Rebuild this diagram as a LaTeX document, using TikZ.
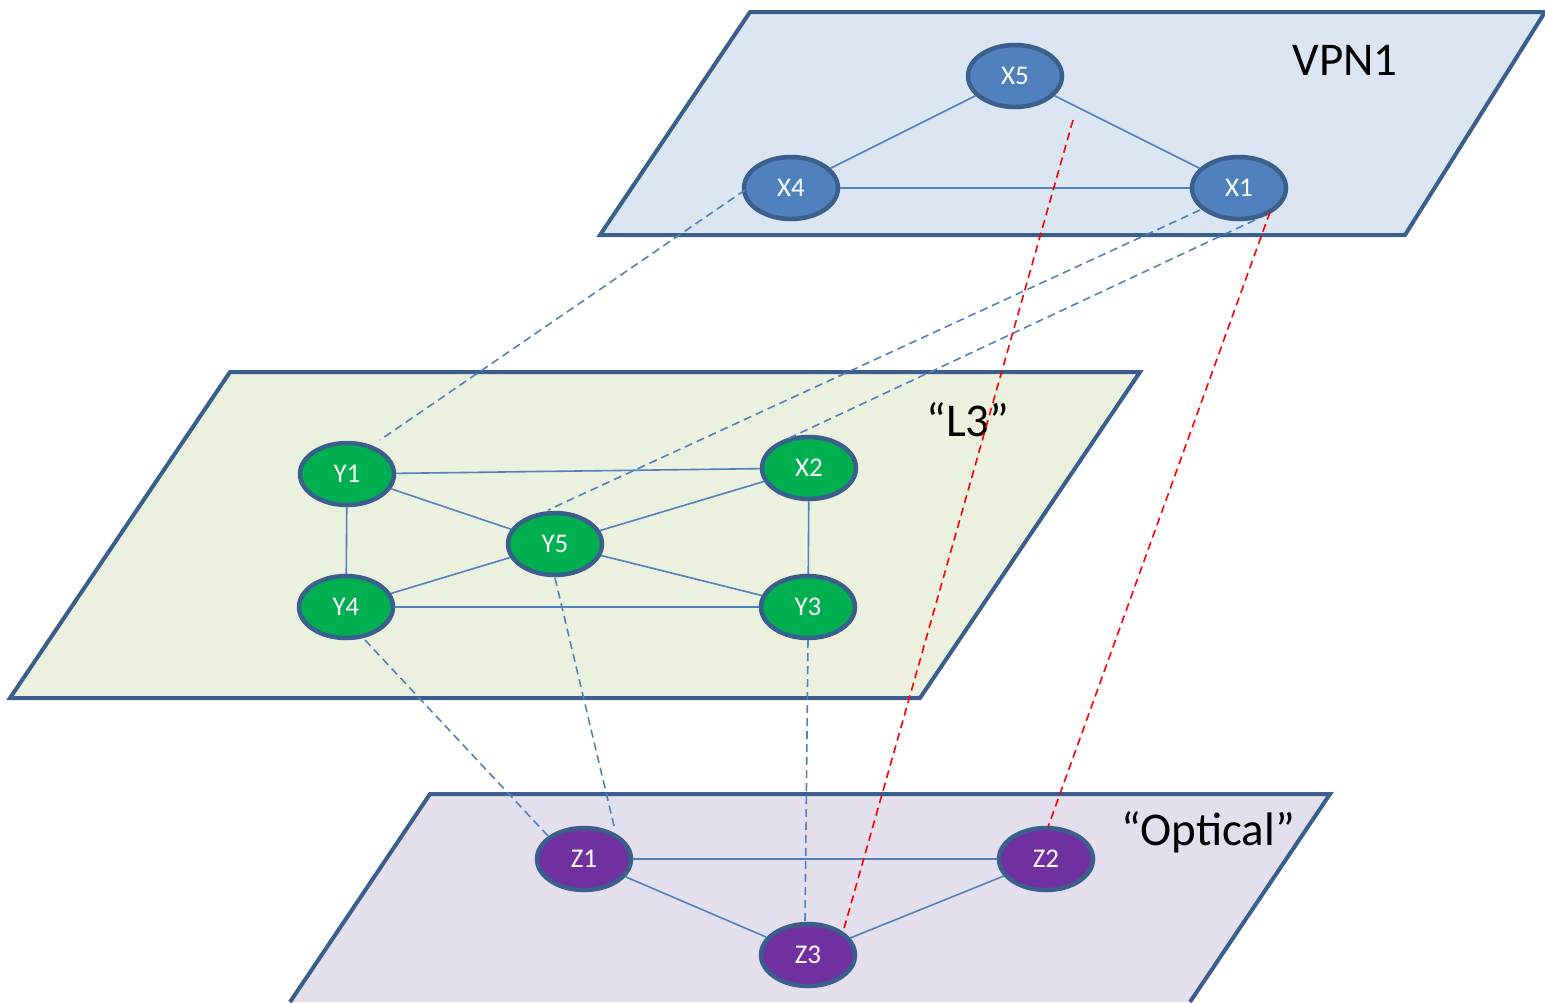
\documentclass[tikz,border=0pt]{standalone}
\usepackage{fontspec}
\setmainfont{Carlito}
\usetikzlibrary{shapes.geometric}
\definecolor{edgeblue}{HTML}{4F81BD}
\definecolor{borderblue}{HTML}{3A5F8C}
\definecolor{vpnfill}{HTML}{DCE6F2}
\definecolor{lthreefill}{HTML}{EBF1DE}
\definecolor{optfill}{HTML}{E4DFEC}
\definecolor{xnode}{HTML}{4F81BD}
\definecolor{ynode}{HTML}{00B050}
\definecolor{znode}{HTML}{7030A0}
\tikzset{
  plane/.style={draw=borderblue, line width=4pt, line join=miter},
  netnode/.style={ellipse, draw=borderblue, line width=4.5pt, minimum width=94pt, minimum height=62pt, inner sep=0pt, text=white, font=\fontsize{27}{29}\selectfont},
  xn/.style={netnode, fill=xnode},
  yn/.style={netnode, fill=ynode},
  zn/.style={netnode, fill=znode},
  link/.style={draw=edgeblue, line width=1.6pt},
  vlink/.style={draw=edgeblue, line width=1.6pt, dash pattern=on 8pt off 5pt},
  rlink/.style={draw=red, line width=1.6pt, dash pattern=on 8pt off 5pt},
  planelabel/.style={font=\fontsize{47}{50}\selectfont, text=black}
}
\begin{document}
\begin{tikzpicture}[x=1pt,y=-1pt]
\useasboundingbox (0,0) rectangle (1545,1002);
% planes
\draw[plane, fill=vpnfill] (600,235) -- (750,12) -- (1545,12) -- (1405,235) -- cycle;
\draw[plane, fill=lthreefill] (10,698) -- (230,372) -- (1140,372) -- (920,698) -- cycle;
\draw[plane, fill=optfill] (290,1002) -- (430,794) -- (1330,794) -- (1190,1002);
\node[planelabel] (lvpn) at (1345,60) {VPN1};
\node[planelabel] (ll3) at (968,420) {“L3”};
\node[planelabel] (lopt) at (1208,832) {“Optical”};
% nodes
\node[xn] (X5) at (1015,76) {X5};
\node[xn] (X4) at (791,188) {X4};
\node[xn] (X1) at (1239,188) {X1};
\node[yn] (Y1) at (347,474) {Y1};
\node[yn] (X2) at (809,468) {X2};
\node[yn] (Y5) at (555,544) {Y5};
\node[yn] (Y4) at (346,607) {Y4};
\node[yn] (Y3) at (808,607) {Y3};
\node[zn] (Z1) at (584,859) {Z1};
\node[zn] (Z2) at (1046,859) {Z2};
\node[zn] (Z3) at (808,955) {Z3};
% solid links
\draw[link] (X5) -- (X4);
\draw[link] (X5) -- (X1);
\draw[link] (X4) -- (X1);
\draw[link] (Y1) -- (X2);
\draw[link] (Y1) -- (Y5);
\draw[link] (Y1) -- (Y4);
\draw[link] (Y5) -- (X2);
\draw[link] (Y5) -- (Y3);
\draw[link] (Y5) -- (Y4);
\draw[link] (Y4) -- (Y3);
\draw[link] (X2) -- (Y3);
\draw[link] (Z1) -- (Z2);
\draw[link] (Z1) -- (Z3);
\draw[link] (Z3) -- (Z2);
% vertical mapping links
\coordinate (X4a) at (745,190);
\coordinate (Y1a) at (380,440);
\coordinate (X1a) at (1200,210);
\coordinate (Y5a) at (548,510);
\coordinate (X1b) at (1255,220);
\coordinate (X2a) at (785,440);
\coordinate (Y4a) at (365,640);
\coordinate (Z1a) at (550,838);
\coordinate (Y5b) at (555,578);
\coordinate (Z1b) at (615,830);
\coordinate (Y3a) at (808,640);
\coordinate (Z3a) at (805,922);
\coordinate (X5a) at (1073,120);
\coordinate (Z3b) at (843,932);
\coordinate (X1c) at (1270,212);
\coordinate (Z2a) at (1048,827);
\draw[vlink] (X4a) -- (Y1a);
\draw[vlink] (X1a) -- (Y5a);
\draw[vlink] (X1b) -- (X2a);
\draw[vlink] (Y4a) -- (Z1a);
\draw[vlink] (Y5b) -- (Z1b);
\draw[vlink] (Y3a) -- (Z3a);
\draw[rlink] (X5a) -- (Z3b);
\draw[rlink] (X1c) -- (Z2a);
\end{tikzpicture}
\end{document}
